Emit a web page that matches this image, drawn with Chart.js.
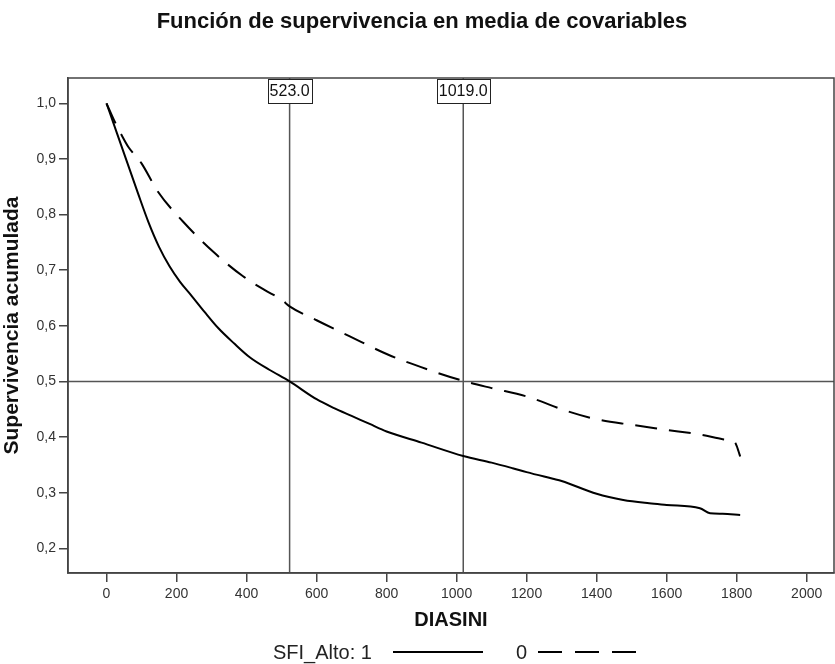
<!DOCTYPE html>
<html>
<head>
<meta charset="utf-8">
<script src="https://cdn.jsdelivr.net/npm/chart.js@4"></script>
<style>
  body { margin: 0; background: #fff; }
  #wrap { width: 835px; height: 664px; }
</style>
</head>
<body>
<div id="wrap"><canvas id="survChart" width="835" height="664"></canvas></div>
<script>
// Survival at covariate means, grouped by SFI_Alto
const timesAlto1 = [0, 30, 60, 90, 120, 150, 180, 210, 243, 280, 319, 365, 410, 465, 523, 600, 650, 700, 750, 800, 900, 1019, 1100, 1160, 1200, 1275, 1300, 1400, 1476, 1550, 1600, 1695, 1724, 1760, 1810];
const survAlto1 = [1.0, 0.946, 0.892, 0.838, 0.786, 0.742, 0.707, 0.679, 0.654, 0.625, 0.596, 0.568, 0.543, 0.521, 0.50, 0.468, 0.452, 0.438, 0.424, 0.41, 0.39, 0.366, 0.354, 0.344, 0.337, 0.325, 0.321, 0.298, 0.287, 0.281, 0.278, 0.272, 0.263, 0.262, 0.26];

const timesAlto0 = [0, 25, 43, 62, 100, 147, 219, 305, 390, 450, 500, 523, 600, 695, 805, 924, 1019, 1100, 1200, 1319, 1400, 1500, 1600, 1700, 1760, 1795, 1800, 1805, 1810];
const survAlto0 = [1.0, 0.965, 0.943, 0.922, 0.892, 0.841, 0.787, 0.733, 0.689, 0.665, 0.647, 0.635, 0.61, 0.581, 0.548, 0.52, 0.501, 0.488, 0.473, 0.446, 0.432, 0.422, 0.413, 0.404, 0.396, 0.39, 0.384, 0.375, 0.365];

// median survival times and the 0.5 reference level
const medianTimes = [523, 1019];
const medianLabels = ['523.0', '1019.0'];
const medianLevel = 0.5;

const xTicks = [0, 200, 400, 600, 800, 1000, 1200, 1400, 1600, 1800, 2000];
const yTicks = [0.2, 0.3, 0.4, 0.5, 0.6, 0.7, 0.8, 0.9, 1.0];

const FONT = '"Liberation Sans", Arial, sans-serif';
const AXIS = '#444';

function toPoints(xs, ys) {
  return xs.map((x, i) => ({ x: x, y: ys[i] }));
}

// reference lines, label boxes, frame, title and legend
const extras = {
  id: 'extras',
  beforeDatasetsDraw(chart) {
    const { ctx, chartArea: a, scales } = chart;
    ctx.save();
    ctx.strokeStyle = '#555';
    ctx.lineWidth = 1.5;
    ctx.beginPath();
    medianTimes.forEach(t => {
      const px = scales.x.getPixelForValue(t);
      ctx.moveTo(px, a.top);
      ctx.lineTo(px, a.bottom);
    });
    const py = scales.y.getPixelForValue(medianLevel);
    ctx.moveTo(a.left, py);
    ctx.lineTo(a.right, py);
    ctx.stroke();
    ctx.restore();
  },
  afterDraw(chart) {
    const { ctx, chartArea: a, scales } = chart;
    ctx.save();

    // plot frame
    ctx.strokeStyle = AXIS;
    ctx.lineWidth = 1.5;
    ctx.strokeRect(a.left, a.top, a.right - a.left, a.bottom - a.top);

    // boxed median labels on top edge
    ctx.font = '16px ' + FONT;
    ctx.textAlign = 'center';
    ctx.textBaseline = 'middle';
    medianTimes.forEach((t, i) => {
      const px = scales.x.getPixelForValue(t);
      const w = ctx.measureText(medianLabels[i]).width + 4;
      ctx.fillStyle = '#fff';
      ctx.fillRect(px - w / 2, a.top + 1, w, 24);
      ctx.strokeStyle = '#222';
      ctx.lineWidth = 1;
      ctx.strokeRect(Math.round(px - w / 2) + 0.5, a.top + 1.5, Math.round(w), 24);
      ctx.fillStyle = '#111';
      ctx.fillText(medianLabels[i], px, a.top + 14);
    });

    // title
    ctx.fillStyle = '#111';
    ctx.font = 'bold 22px ' + FONT;
    ctx.textBaseline = 'alphabetic';
    ctx.fillText('Función de supervivencia en media de covariables', 422, 28);

    // legend
    const ly = 652;
    ctx.font = '20px ' + FONT;
    ctx.textAlign = 'left';
    ctx.fillStyle = '#222';
    ctx.fillText('SFI_Alto: 1', 273, 659);
    ctx.fillText('0', 516, 659);
    ctx.strokeStyle = '#000';
    ctx.lineWidth = 2;
    ctx.beginPath();
    ctx.moveTo(393, ly);
    ctx.lineTo(483, ly);
    ctx.stroke();
    ctx.setLineDash([24, 13]);
    ctx.beginPath();
    ctx.moveTo(538, ly);
    ctx.lineTo(637, ly);
    ctx.stroke();
    ctx.restore();
  }
};

const ctx = document.getElementById('survChart').getContext('2d');
new Chart(ctx, {
  type: 'line',
  data: {
    datasets: [
      {
        label: '1',
        data: toPoints(timesAlto1, survAlto1),
        borderColor: '#000',
        borderWidth: 2,
        pointRadius: 0,
        cubicInterpolationMode: 'monotone'
      },
      {
        label: '0',
        data: toPoints(timesAlto0, survAlto0),
        borderColor: '#000',
        borderWidth: 2,
        borderDash: [22, 12],
        pointRadius: 0,
        cubicInterpolationMode: 'monotone'
      }
    ]
  },
  options: {
    responsive: false,
    animation: false,
    devicePixelRatio: 1,
    layout: { padding: { top: 78, right: 1, bottom: 0, left: 0 } },
    plugins: {
      legend: { display: false },
      title: { display: false },
      tooltip: { enabled: false }
    },
    scales: {
      x: {
        type: 'linear',
        min: -110,
        max: 2078,
        afterFit: s => { s.height = 91; },
        afterBuildTicks: s => { s.ticks = xTicks.map(v => ({ value: v })); },
        ticks: {
          font: { size: 14, family: FONT },
          color: '#333',
          padding: 4,
          maxRotation: 0,
          callback: v => String(v)
        },
        grid: { drawOnChartArea: false, tickLength: 9, color: AXIS, lineWidth: 1.5 },
        border: { color: AXIS, width: 1.5 },
        title: {
          display: true,
          text: 'DIASINI',
          color: '#111',
          font: { size: 20, weight: 'bold', family: FONT },
          padding: { top: 0, bottom: 32 }
        }
      },
      y: {
        type: 'linear',
        min: 0.1556,
        max: 1.0455,
        afterFit: s => { s.width = 68; },
        afterBuildTicks: s => { s.ticks = yTicks.map(v => ({ value: v })); },
        ticks: {
          font: { size: 14, family: FONT },
          color: '#333',
          padding: 3,
          callback: v => v.toFixed(1).replace('.', ',')
        },
        grid: { drawOnChartArea: false, tickLength: 9, color: AXIS, lineWidth: 1.5 },
        border: { color: AXIS, width: 1.5 },
        title: {
          display: true,
          text: 'Supervivencia acumulada',
          color: '#111',
          font: { size: 21, weight: 'bold', family: FONT },
          padding: { top: 0, bottom: 0 }
        }
      }
    }
  },
  plugins: [extras]
});
</script>
</body>
</html>
